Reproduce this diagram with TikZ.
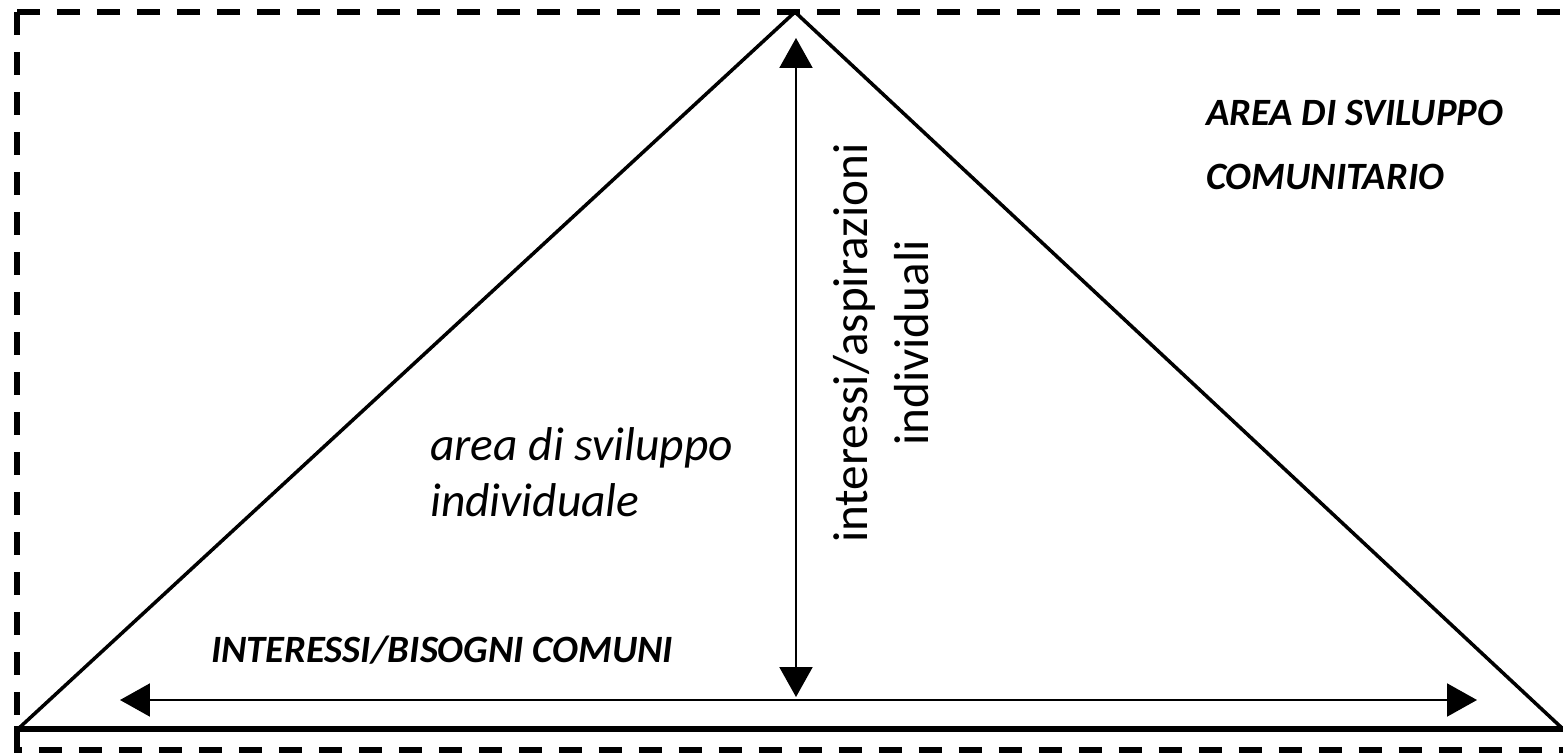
\documentclass[tikz,border=0pt]{standalone}
\usepackage{fontspec}
\setmainfont{Carlito}
\usetikzlibrary{arrows.meta}

\begin{document}
\begin{tikzpicture}[x=0.02cm, y=-0.02cm,
	frame/.style={line width=3pt, dash pattern=on 0.46cm off 0.34cm},
	side/.style={line width=2pt},
	span/.style={line width=1.2pt, {Triangle[width=0.66cm,length=0.6cm]}-{Triangle[width=0.66cm,length=0.6cm]}},
	caps/.style={font=\fontsize{22}{36}\selectfont\bfseries\itshape, align=left}]
	\useasboundingbox (0,0) rectangle (1563,754);

	% dashed frame
	\coordinate (corner) at (17,12);
	\draw[frame] (corner) -- (1575,12);
	\draw[frame] (corner) -- (17,750) -- (1575,750);

	% triangle
	\coordinate (apex) at (795,12);
	\coordinate (left) at (18,729);
	\coordinate (right) at (1563,729);
	\draw[side] (left) -- (apex) -- (right);
	\draw[line width=3pt] (14,729) -- (right);

	% arrows
	\coordinate (top) at (796,38);
	\coordinate (bot) at (796,697);
	\coordinate (west) at (120,700);
	\coordinate (east) at (1477,700);
	\draw[span] (top) -- (bot);
	\draw[span] (west) -- (east);

	% labels
	\node[caps, anchor=west] (community) at (1200,145) {AREA DI SVILUPPO\\COMUNITARIO};
	\node[caps] (common) at (442,650) {INTERESSI/BISOGNI COMUNI};
	\node[font=\fontsize{27}{32}\selectfont\itshape, align=left, anchor=west] (personal) at (424,472) {area di sviluppo\\individuale};
	\node[font=\fontsize{28}{35}\selectfont, align=center, rotate=90] (aims) at (881,343) {interessi/aspirazioni\\individuali};
\end{tikzpicture}
\end{document}
